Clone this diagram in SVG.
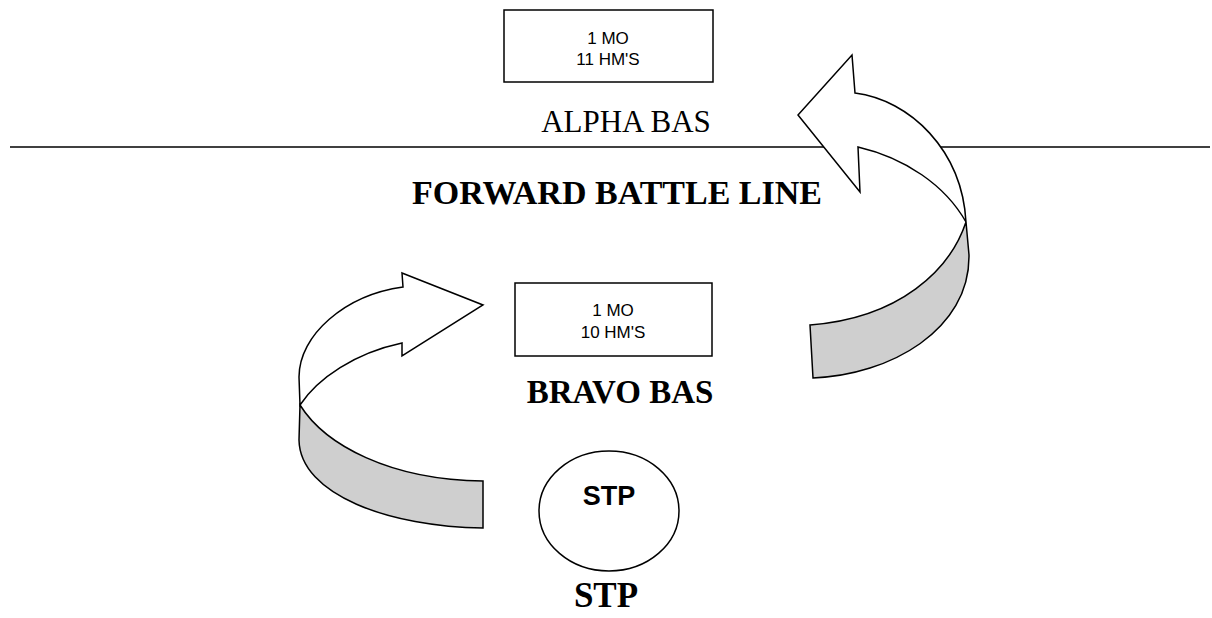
<svg xmlns="http://www.w3.org/2000/svg" width="1212" height="618" viewBox="0 0 1212 618">
<style>
.box{fill:#fff;stroke:#000;stroke-width:1.5}
.sm{font-family:"Liberation Sans",Arial,sans-serif;font-size:17px;text-anchor:middle}
.ser{font-family:"Liberation Serif","Times New Roman",serif;text-anchor:middle}
.band{stroke:#000;stroke-width:1.5;stroke-linejoin:miter}
</style>
<rect width="1212" height="618" fill="#fff"/>
<line x1="10" y1="147" x2="1210" y2="147" stroke="#000" stroke-width="1.5"/>
<g id="alpha-node">
<rect class="box" x="504" y="10" width="209" height="72"/>
<text class="sm" x="608" y="44">1 MO</text>
<text class="sm" x="608" y="65">11 HM'S</text>
<text class="ser" x="626" y="132" font-size="31">ALPHA BAS</text>
</g>
<text id="fbl" class="ser" x="617" y="204" font-size="34" font-weight="bold">FORWARD BATTLE LINE</text>
<g id="bravo-node">
<rect class="box" x="515" y="283" width="197" height="73"/>
<text class="sm" x="613" y="316">1 MO</text>
<text class="sm" x="613" y="338">10 HM'S</text>
<text class="ser" x="620" y="403" font-size="33" font-weight="bold">BRAVO BAS</text>
</g>
<g id="stp-node">
<ellipse cx="609" cy="511" rx="70" ry="60" fill="#fff" stroke="#000" stroke-width="1.5"/>
<text x="609" y="505" font-family="Liberation Sans,Arial,sans-serif" font-size="27" font-weight="bold" text-anchor="middle">STP</text>
<text class="ser" x="606" y="607" font-size="35" font-weight="bold">STP</text>
</g>
<g id="connectors">
<g id="arrow-right">
<path class="band" fill="#cfcfcf" d="M966,222 C950,270 900,318 810,325 L813,378 C890,375 970,330 969,255 Z"/>
<path class="band" fill="#fff" d="M855,93 C910,100 962,150 966,222 C945,185 905,158 858,147 L860,192 L798,115 L852,55 Z"/>
</g>
<g id="arrow-left">
<path class="band" fill="#cfcfcf" d="M300,405 C325,445 390,480 483,481 L483,528 C390,527 300,495 299,440 Z"/>
<path class="band" fill="#fff" d="M402,273 L483,305 L402,356 L402,343 C355,353 318,378 300,405 L299,377 C299,335 345,295 403,287 Z"/>
</g>
</g>
</svg>
